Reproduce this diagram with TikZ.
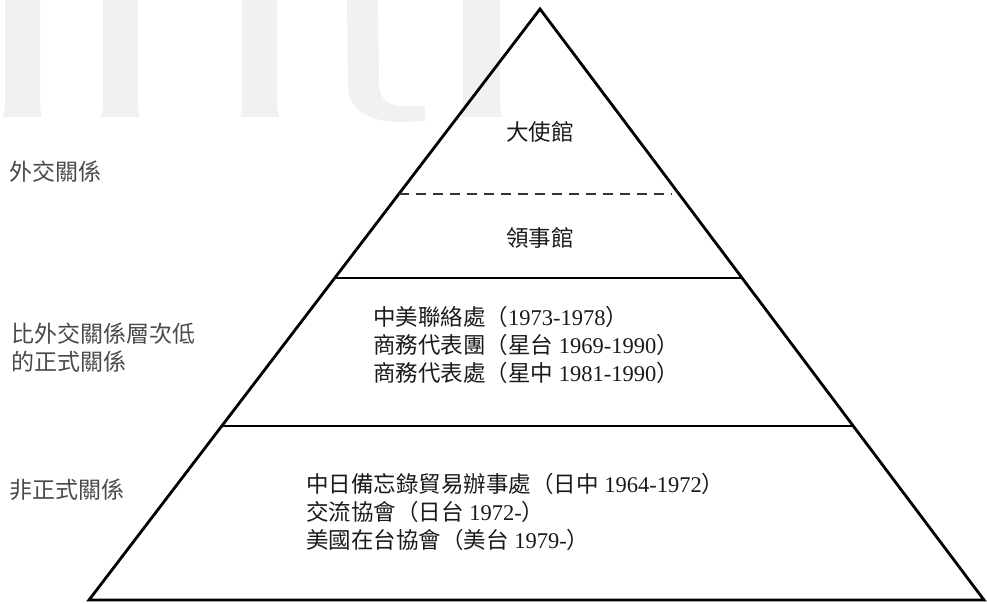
\documentclass[tikz,border=0pt]{standalone}
\usepackage{fontspec}
\setmainfont{Liberation Serif}
\newfontfamily\cjkfont{Noto Sans CJK TC}
\newcommand\zh[1]{{\cjkfont #1}}
\usetikzlibrary{calc}
\definecolor{wm}{HTML}{F1F1F1}
\definecolor{lbl}{HTML}{4A4A4A}
\definecolor{ink}{HTML}{1A1A1A}
\tikzset{
  edge/.style={line width=2.8pt, draw=black, line join=miter},
  tier/.style={line width=1.6pt, draw=black},
  tierdash/.style={line width=1.8pt, draw=black!80, dash pattern=on 10pt off 7pt},
  lab/.style={inner sep=0pt, text=lbl, font=\cjkfont\fontsize{23}{28}\selectfont},
  txt/.style={inner sep=0pt, text=ink, font=\fontsize{22.5}{28}\selectfont},
}
\begin{document}
\begin{tikzpicture}[x=1pt,y=-1pt]
\useasboundingbox (0,0) rectangle (987,604);
% faint watermark
\fill[wm] (5,0) -- (40,0) -- (40,108) -- (42,117) -- (3,117) -- (5,108) -- cycle;
\fill[wm] (103,0) -- (138,0) -- (138,108) -- (140,117) -- (101,117) -- (103,108) -- cycle;
\fill[wm] (242,0) -- (277,0) -- (277,108) -- (279,117) -- (240,117) -- (242,108) -- cycle;
\fill[wm] (347,0) -- (378,0) -- (379,86) .. controls (380,100) and (390,106) .. (402,106) -- (425,106) -- (425,121) -- (402,122) .. controls (366,122) and (349,108) .. (348,88) -- cycle;
\fill[wm] (463,0) -- (500,0) -- (500,108) -- (502,117) -- (461,117) -- (463,108) -- cycle;
% pyramid
\coordinate (A) at (540,9);
\coordinate (L) at (89,600);
\coordinate (R) at (984,600);
\draw[edge] (A) -- (L) -- (R) -- cycle;
\coordinate (d1) at ($(A)!0.313!(L)$);
\coordinate (d2) at ($(A)!0.313!(R)$);
\coordinate (s1) at ($(A)!0.455!(L)$);
\coordinate (s2) at ($(A)!0.455!(R)$);
\coordinate (t1) at ($(A)!0.7056!(L)$);
\coordinate (t2) at ($(A)!0.7056!(R)$);
\draw[tierdash, shorten >=7pt] (d1) -- (d2);
\draw[tier] (s1) -- (s2);
\draw[tier] (t1) -- (t2);
% texts in pyramid
\node[txt] (emb) at (540,132) {\zh{大使館}};
\node[txt] (con) at (540,238) {\zh{領事館}};
\node[txt, anchor=west, align=left] (mid) at (373,345) {%
\zh{中美聯絡處（}1973-1978\zh{）}\\
\zh{商務代表團（星台} 1969-1990\zh{）}\\
\zh{商務代表處（星中} 1981-1990\zh{）}};
\node[txt, anchor=west, align=left] (low) at (306,512) {%
\zh{中日備忘錄貿易辦事處（日中} 1964-1972\zh{）}\\
\zh{交流協會（日台} 1972-\zh{）}\\
\zh{美國在台協會（美台} 1979-\zh{）}};
% side labels
\node[lab, anchor=west] (l1) at (9,172) {外交關係};
\node[lab, anchor=west, align=left] (l2) at (11,348) {比外交關係層次低\\的正式關係};
\node[lab, anchor=west] (l3) at (9,490) {非正式關係};
\end{tikzpicture}
\end{document}
